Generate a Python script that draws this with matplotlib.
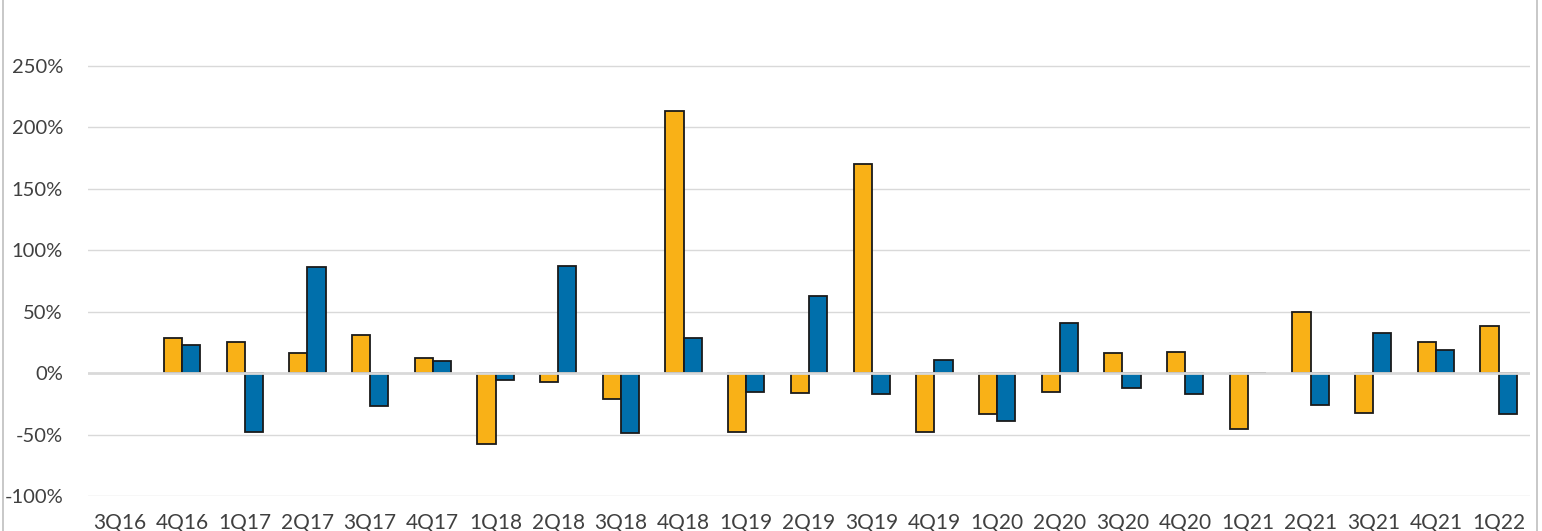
#!/usr/bin/env python3
"""Quarterly % change, two series, grouped bars."""

import numpy as np
import matplotlib
matplotlib.use('Agg')
import matplotlib.pyplot as plt
import matplotlib.patches as patches
from matplotlib.ticker import FuncFormatter

quarters = ['3Q16', '4Q16', '1Q17', '2Q17', '3Q17', '4Q17', '1Q18', '2Q18',
            '3Q18', '4Q18', '1Q19', '2Q19', '3Q19', '4Q19', '1Q20', '2Q20',
            '3Q20', '4Q20', '1Q21', '2Q21', '3Q21', '4Q21', '1Q22']

# percent change (3Q16 has no bars)
series_gold = [np.nan, 28.5, 25, 16, 31, 12, -58, -7, -21, 213.5, -48, -16,
               170.5, -48, -33, -15, 16, 17.5, -45.5, 49.5, -32.5, 25.5, 38.5]
series_blue = [np.nan, 23, -48, 86, -27, 10, -6, 87, -49, 28.5, -15, 63,
               -17, 11, -39, 41, -12, -17, 0.5, -26, 32.5, 19, -33.5]

ytick_vals = [-100, -50, 0, 50, 100, 150, 200, 250]

GOLD = '#F9B117'
BLUE = '#006FAB'
GRID = '#D9D9D9'
TEXT = '#404040'


def main():
    plt.rcParams['font.family'] = ['Lato', 'DejaVu Sans']

    fig = plt.figure(figsize=(15.42, 5.31), dpi=100)
    ax = fig.add_axes([88 / 1542, 35 / 531, (1530 - 88) / 1542, (531 - 35 - 4.5) / 531])

    x = np.arange(len(quarters))
    w = 0.29
    ax.bar(x - w / 2, series_gold, w, color=GOLD, edgecolor='#1a1a1a', linewidth=1.3, zorder=2)
    ax.bar(x + w / 2, series_blue, w, color=BLUE, edgecolor='#1a1a1a', linewidth=1.3, zorder=2)

    ax.set_xlim(-0.5, len(quarters) - 0.5)
    ax.set_ylim(-100, 300)
    ax.set_yticks(ytick_vals)
    ax.yaxis.set_major_formatter(FuncFormatter(lambda v, p: f'{v:.0f}%'))
    ax.set_xticks(x)
    ax.set_xticklabels(quarters)

    for v in ytick_vals:
        lw = 2.0 if v == 0 else 1.0
        ax.axhline(v, color=GRID, linewidth=lw, zorder=3 if v == 0 else 1)

    for s in ax.spines.values():
        s.set_visible(False)
    ax.tick_params(axis='both', length=0, colors=TEXT)
    ax.tick_params(axis='x', pad=12, labelsize=15)
    ax.tick_params(axis='y', pad=18, labelsize=14.5)

    # outer chart-area border (left/right edges visible)
    border = patches.Rectangle((2.5 / 1542, -0.1), (1537 - 2.5) / 1542, 1.2,
                               transform=fig.transFigure, fill=False,
                               edgecolor='#BFBFBF', linewidth=1.2)
    fig.patches.append(border)

    fig.savefig('out.png', dpi=100)
    plt.close(fig)


if __name__ == "__main__":
    main()
